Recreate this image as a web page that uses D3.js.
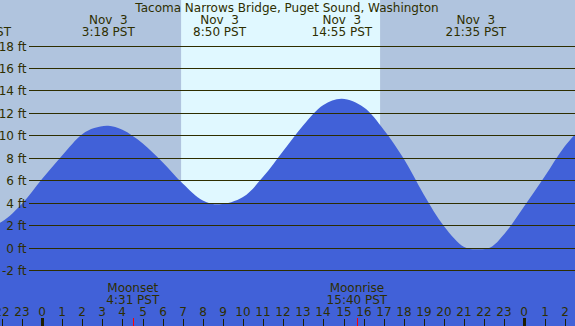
<!DOCTYPE html>
<html>
<head>
<meta charset="utf-8">
<script src="https://cdn.jsdelivr.net/npm/d3@7"></script>
<style>
  body { margin: 0; background: #fff; }
  svg { display: block; font-family: "DejaVu Sans", sans-serif; }
  text { white-space: pre; }
</style>
</head>
<body>
<svg id="chart" width="575" height="326"></svg>
<script>
// tide heights (hours from midnight Nov 3, feet)
const tideHours = [-3.05, -2, -1, 0, 1, 2, 2.6, 3.3, 4, 5, 6, 7, 8, 8.83, 10, 11, 12, 13, 14, 14.92, 16, 17, 18, 19, 20, 21, 21.58, 22.3, 23, 24, 25, 26, 27];
const tideFeet  = [1.7, 2.3, 3.9, 6.1, 8.2, 10.1, 10.65, 10.85, 10.5, 9.3, 7.6, 5.7, 4.2, 3.85, 4.5, 6.3, 8.6, 10.9, 12.7, 13.25, 12.5, 10.5, 7.9, 4.7, 1.9, 0.05, -0.15, 0.0, 1.2, 3.7, 6.3, 9.0, 11.0];

// high / low labels
const extremeHours = [-3.05, 3.3, 8.833, 14.917, 21.583];
const extremeDates = ["Nov  2", "Nov  3", "Nov  3", "Nov  3", "Nov  3"];
const extremeTimes = ["20:57 PST", "3:18 PST", "8:50 PST", "14:55 PST", "21:35 PST"];

// sun and moon
const sunrise = 6.92, sunset = 16.82;
const moonHours = [4.517, 15.667];
const moonNames = ["Moonset", "Moonrise"];
const moonTimes = ["4:31 PST", "15:40 PST"];

const feetTicks = [-2, 0, 2, 4, 6, 8, 10, 12, 14, 16, 18];
const title = "Tacoma Narrows Bridge, Puget Sound, Washington";

const W = 575, H = 326;
const ink = "#2e2e00";
const svg = d3.select("#chart");

const x = d3.scaleLinear().domain([0, 24]).range([42, 524.4]);
const y = d3.scaleLinear().domain([-2, 18]).range([270, 45.5]);

// night / day background
svg.append("rect").attr("x", 0).attr("y", 0).attr("width", W).attr("height", H).attr("fill", "#b0c4de");
svg.append("rect").attr("x", x(sunrise)).attr("y", 0)
  .attr("width", x(sunset) - x(sunrise)).attr("height", H).attr("fill", "#e0f8ff");

// water
const tide = tideHours.map((h, i) => ({h: h, v: tideFeet[i]}));
const area = d3.area()
  .x(d => x(d.h))
  .y0(H)
  .y1(d => y(d.v))
  .curve(d3.curveCatmullRom.alpha(0.5));
svg.append("path").datum(tide).attr("d", area).attr("fill", "#4161d8");

// grid lines + labels
const grid = svg.append("g");
feetTicks.forEach(f => {
  const yy = Math.round(y(f)) + 0.5;
  grid.append("line").attr("x1", 29).attr("x2", W).attr("y1", yy).attr("y2", yy)
    .attr("stroke", ink).attr("stroke-width", 1);
  grid.append("text").attr("x", 26.5).attr("y", yy + 4.5)
    .attr("text-anchor", "end").attr("font-size", 12).attr("fill", ink)
    .text(f + " ft");
});

// title
svg.append("text").attr("x", 287).attr("y", 11.5).attr("text-anchor", "middle")
  .attr("font-size", 12).attr("fill", ink).text(title);

// extreme labels
extremeHours.forEach((h, i) => {
  svg.append("text").attr("x", x(h)).attr("y", 23.5).attr("text-anchor", "middle")
    .attr("font-size", 12).attr("fill", ink).text(extremeDates[i]);
  svg.append("text").attr("x", x(h)).attr("y", 36).attr("text-anchor", "middle")
    .attr("font-size", 12).attr("fill", ink).text(extremeTimes[i]);
});

// moon labels
moonHours.forEach((h, i) => {
  svg.append("text").attr("x", x(h)).attr("y", 292).attr("text-anchor", "middle")
    .attr("font-size", 12).attr("fill", ink).text(moonNames[i]);
  svg.append("text").attr("x", x(h)).attr("y", 303.5).attr("text-anchor", "middle")
    .attr("font-size", 12).attr("fill", ink).text(moonTimes[i]);
});

// hour axis
const hours = d3.range(-2, 27);
hours.forEach(h => {
  const xx = Math.round(x(h));
  const midnight = ((h % 24) + 24) % 24 === 0;
  svg.append("text").attr("x", xx).attr("y", 316).attr("text-anchor", "middle")
    .attr("font-size", 12).attr("fill", ink)
    .text(((h % 24) + 24) % 24);
  svg.append("line").attr("x1", xx + 0.5).attr("x2", xx + 0.5).attr("y1", midnight ? 318 : 319).attr("y2", H)
    .attr("stroke", "#1e1e00").attr("stroke-width", midnight ? 3 : 1);
});
moonHours.forEach(h => {
  const xx = Math.round(x(h)) + 0.5;
  svg.append("line").attr("x1", xx).attr("x2", xx).attr("y1", 318).attr("y2", H)
    .attr("stroke", "#ff0000").attr("stroke-width", 1);
});
</script>
</body>
</html>
